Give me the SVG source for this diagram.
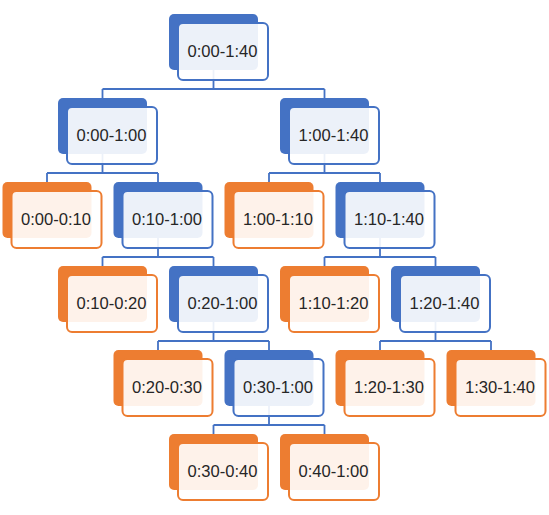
<svg xmlns="http://www.w3.org/2000/svg" width="549" height="515" viewBox="0 0 549 515">
<style>
.bb{fill:#4472C4}
.bo{fill:#ED7D31}
.fb{fill:#fff;fill-opacity:0.9;stroke:#4472C4;stroke-width:2}
.fo{fill:#fff;fill-opacity:0.9;stroke:#ED7D31;stroke-width:2}
.t{font-family:"Liberation Sans",Arial,sans-serif;font-size:16px;fill:#262626;text-anchor:middle;dominant-baseline:central}
.c{fill:none;stroke:#4472C4;stroke-width:1.8}
</style>
<rect width="549" height="515" fill="#fff"/>
<g id="connectors">
<path class="c" d="M213.5 70V89M102.5 89H324.5M102.5 89V98M324.5 89V98"/>
<path class="c" d="M102.5 154V173M47 173H158M47 173V182M158 173V182"/>
<path class="c" d="M324.5 154V173M269 173H380M269 173V182M380 173V182"/>
<path class="c" d="M158 238V257M102.5 257H213.5M102.5 257V266M213.5 257V266"/>
<path class="c" d="M380 238V257M324.5 257H435.5M324.5 257V266M435.5 257V266"/>
<path class="c" d="M213.5 322V341M158 341H269M158 341V350M269 341V350"/>
<path class="c" d="M435.5 322V341M380 341H491M380 341V350M491 341V350"/>
<path class="c" d="M269 406V425M213.5 425H324.5M213.5 425V434M324.5 425V434"/>
</g>
<g id="n1"><rect class="bb" x="169" y="14" width="89" height="56" rx="5"/><rect class="fb" x="178" y="23" width="90" height="57" rx="5"/><text class="t" x="222.5" y="51.5" textLength="70" lengthAdjust="spacingAndGlyphs">0:00-1:40</text></g>
<g id="n2"><rect class="bb" x="58" y="98" width="89" height="56" rx="5"/><rect class="fb" x="67" y="107" width="90" height="57" rx="5"/><text class="t" x="111.5" y="135.5" textLength="70" lengthAdjust="spacingAndGlyphs">0:00-1:00</text></g>
<g id="n3"><rect class="bb" x="280" y="98" width="89" height="56" rx="5"/><rect class="fb" x="289" y="107" width="90" height="57" rx="5"/><text class="t" x="333.5" y="135.5" textLength="70" lengthAdjust="spacingAndGlyphs">1:00-1:40</text></g>
<g id="n4"><rect class="bo" x="2.5" y="182" width="89" height="56" rx="5"/><rect class="fo" x="11.5" y="191" width="90" height="57" rx="5"/><text class="t" x="56" y="219.5" textLength="70" lengthAdjust="spacingAndGlyphs">0:00-0:10</text></g>
<g id="n5"><rect class="bb" x="113.5" y="182" width="89" height="56" rx="5"/><rect class="fb" x="122.5" y="191" width="90" height="57" rx="5"/><text class="t" x="167" y="219.5" textLength="70" lengthAdjust="spacingAndGlyphs">0:10-1:00</text></g>
<g id="n6"><rect class="bo" x="224.5" y="182" width="89" height="56" rx="5"/><rect class="fo" x="233.5" y="191" width="90" height="57" rx="5"/><text class="t" x="278" y="219.5" textLength="70" lengthAdjust="spacingAndGlyphs">1:00-1:10</text></g>
<g id="n7"><rect class="bb" x="335.5" y="182" width="89" height="56" rx="5"/><rect class="fb" x="344.5" y="191" width="90" height="57" rx="5"/><text class="t" x="389" y="219.5" textLength="70" lengthAdjust="spacingAndGlyphs">1:10-1:40</text></g>
<g id="n8"><rect class="bo" x="58" y="266" width="89" height="56" rx="5"/><rect class="fo" x="67" y="275" width="90" height="57" rx="5"/><text class="t" x="111.5" y="303.5" textLength="70" lengthAdjust="spacingAndGlyphs">0:10-0:20</text></g>
<g id="n9"><rect class="bb" x="169" y="266" width="89" height="56" rx="5"/><rect class="fb" x="178" y="275" width="90" height="57" rx="5"/><text class="t" x="222.5" y="303.5" textLength="70" lengthAdjust="spacingAndGlyphs">0:20-1:00</text></g>
<g id="n10"><rect class="bo" x="280" y="266" width="89" height="56" rx="5"/><rect class="fo" x="289" y="275" width="90" height="57" rx="5"/><text class="t" x="333.5" y="303.5" textLength="70" lengthAdjust="spacingAndGlyphs">1:10-1:20</text></g>
<g id="n11"><rect class="bb" x="391" y="266" width="89" height="56" rx="5"/><rect class="fb" x="400" y="275" width="90" height="57" rx="5"/><text class="t" x="444.5" y="303.5" textLength="70" lengthAdjust="spacingAndGlyphs">1:20-1:40</text></g>
<g id="n12"><rect class="bo" x="113.5" y="350" width="89" height="56" rx="5"/><rect class="fo" x="122.5" y="359" width="90" height="57" rx="5"/><text class="t" x="167" y="387.5" textLength="70" lengthAdjust="spacingAndGlyphs">0:20-0:30</text></g>
<g id="n13"><rect class="bb" x="224.5" y="350" width="89" height="56" rx="5"/><rect class="fb" x="233.5" y="359" width="90" height="57" rx="5"/><text class="t" x="278" y="387.5" textLength="70" lengthAdjust="spacingAndGlyphs">0:30-1:00</text></g>
<g id="n14"><rect class="bo" x="335.5" y="350" width="89" height="56" rx="5"/><rect class="fo" x="344.5" y="359" width="90" height="57" rx="5"/><text class="t" x="389" y="387.5" textLength="70" lengthAdjust="spacingAndGlyphs">1:20-1:30</text></g>
<g id="n15"><rect class="bo" x="446.5" y="350" width="89" height="56" rx="5"/><rect class="fo" x="455.5" y="359" width="90" height="57" rx="5"/><text class="t" x="500" y="387.5" textLength="70" lengthAdjust="spacingAndGlyphs">1:30-1:40</text></g>
<g id="n16"><rect class="bo" x="169" y="434" width="89" height="56" rx="5"/><rect class="fo" x="178" y="443" width="90" height="57" rx="5"/><text class="t" x="222.5" y="471.5" textLength="70" lengthAdjust="spacingAndGlyphs">0:30-0:40</text></g>
<g id="n17"><rect class="bo" x="280" y="434" width="89" height="56" rx="5"/><rect class="fo" x="289" y="443" width="90" height="57" rx="5"/><text class="t" x="333.5" y="471.5" textLength="70" lengthAdjust="spacingAndGlyphs">0:40-1:00</text></g>
</svg>
